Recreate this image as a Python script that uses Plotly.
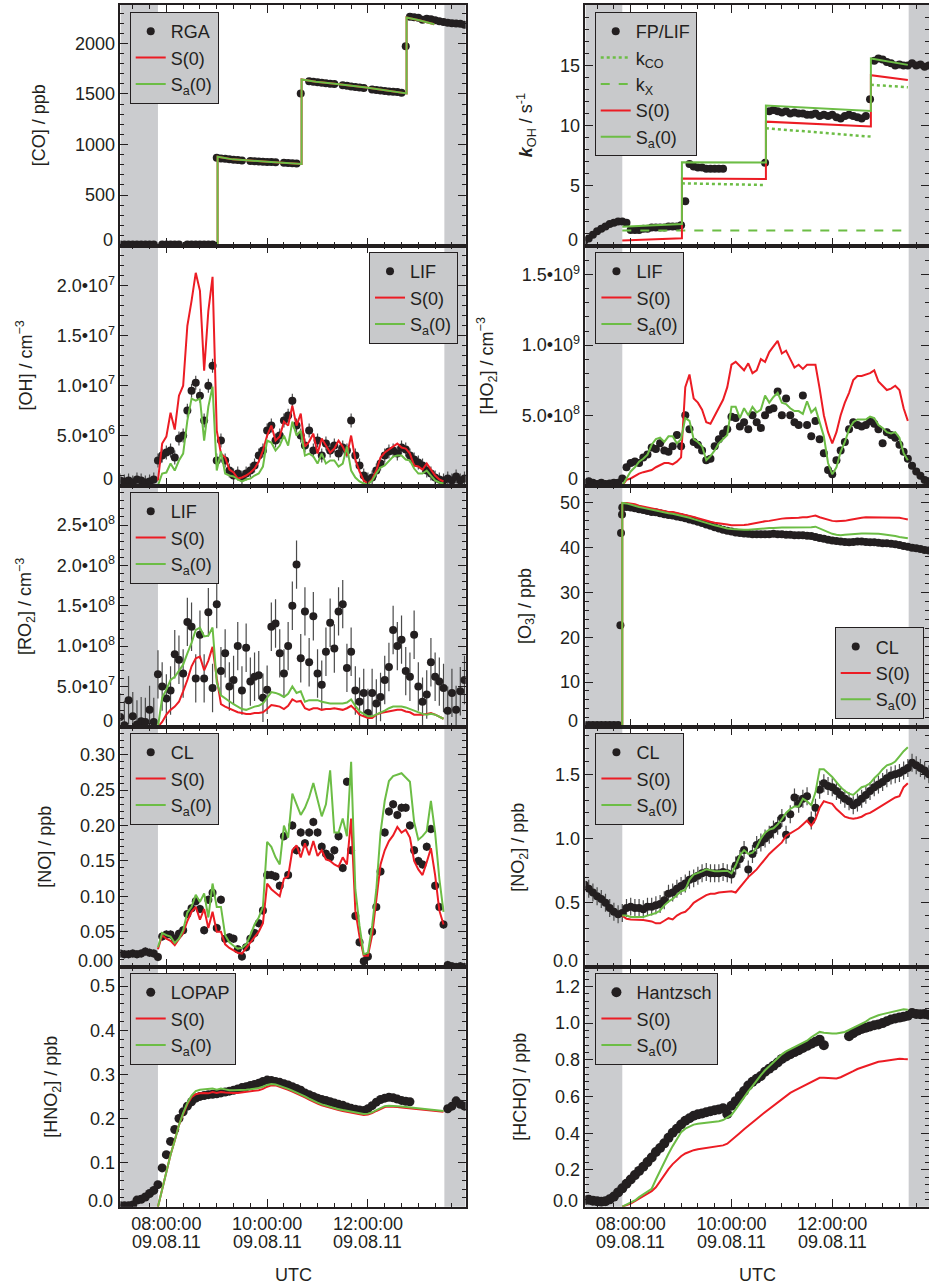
import pandas as pd
import plotly.graph_objects as go

W, H = 931, 1287          # 2 px wider than the window: right frame of right column falls just outside
DAY = "2011-08-09"
FONT = "Arial, Liberation Sans, Helvetica, sans-serif"
BLACK = "#231f20"
RED = "#ec1c24"
GREEN = "#6cbd45"
SHADE = "#cbcccf"
LEGBG = "#c8c9cb"
ERRC = "#4a4a4a"

# ---------------- time bases ----------------
DOT_TIME = pd.date_range(f"{DAY} 07:05", periods=83, freq="5min")   # measurements
MOD_TIME = pd.date_range(f"{DAY} 07:50", periods=69, freq="5min")   # model runs
MAJOR_TICKS = ["08:00", "10:00", "12:00"]
DATE_LABEL = "09.08.11"

# ---------------- [CO] / ppb ----------------
CO_RGA = [10, 10, 10, 10, 10, 10, 10, 10, 10, None,
          10, 10, 10, 10, 10, None, 10, 10, 10, 10,
          10, 10, 10, 870, 862, 858, 855, 850, 846, 842,
          None, 838, 835, 833, 830, 828, 826, 824, None, 820,
          818, 815, 812, 1505, None, 1625, 1620, 1615, 1610, 1605,
          1600, 1598, None, 1585, 1580, 1575, 1570, 1565, 1560, None,
          1545, 1540, 1535, 1530, 1525, 1522, 1520, 1512, 1973, 2265,
          2260, 2255, 2235, 2245, 2240, 2228, 2220, 2212, 2205, 2200,
          2198, 2195, 2185]
CO_MODEL_T = ["07:50", "09:01", "09:01", "09:19", "10:00", "10:41", "10:41", "10:58",
              "11:18", "11:58", "12:46", "12:46", "13:01", "13:19"]
CO_S0 = [0, 0, 879, 853, 830, 807, 1643, 1620, 1604, 1565, 1505, 2257, 2230, 2190]
CO_SA = [0, 0, 879, 853, 830, 807, 1643, 1620, 1604, 1565, 1505, 2257, 2230, 2190]

# ---------------- kOH / s-1 ----------------
KOH_FP = [0.4, 0.6, 0.9, 1.2, 1.4, 1.6, 1.8, 1.9, 2.0, 2.0,
          1.9, 1.3, 1.3, 1.3, 1.4, 1.4, 1.5, 1.5, 1.5, 1.5,
          1.6, 1.6, 1.6, 1.7, 3.7, 6.8, 6.6, 6.5, 6.5, 6.4,
          6.4, 6.4, 6.4, 6.4, None, None, None, None, None, None,
          None, None, None, 6.9, 11.2, 11.3, 11.2, 11.1, 11.2, 11.0,
          11.1, 11.0, 11.0, 10.9, 10.9, 11.0, 10.8, 10.9, 10.8, 10.9,
          10.7, 10.6, 10.8, 10.9, 10.8, 10.7, 10.6, 10.8, 12.2, 15.4,
          15.6, 15.5, 15.3, 15.2, 15.0, 15.1, 15.0, 15.0, 15.2, 15.0,
          15.1, 14.9, 15.0]
KOH_MODEL_T = ["07:50", "09:01", "09:01", "10:41", "10:41", "12:46", "12:46", "13:30"]
KOH_S0 = [0.42, 0.61, 5.60, 5.55, 10.33, 9.92, 14.2, 13.8]
KOH_SA = [1.58, 1.80, 6.94, 6.92, 11.67, 11.22, 15.6, 15.06]
KCO_T = ["09:01", "10:41", "10:41", "10:41", "12:46", "12:46", "12:46", "13:30"]
KCO = [5.19, 5.05, None, 9.78, 9.08, None, 13.4, 13.2]
KX_T = ["07:50", "13:30"]
KX = [1.25, 1.25]

# ---------------- [OH] / 1e6 cm-3 ----------------
OH_LIF = [0.5, 0.4, 0.5, 0.3, 0.6, 0.5, 0.3, 0.4, 0.6, 2.5,
          3.0, 3.3, 3.5, 2.8, 4.7, 5.0, 7.5, 9.5, 10.3, 9.0,
          6.5, 10.0, 12.0, 2.5, 4.5, 2.5, 1.5, 1.0, 1.2, 0.8,
          1.2, 1.5, 2.0, 3.0, 3.5, 5.5, 6.0, 4.5, 5.0, 6.5,
          7.0, 8.5, 6.0, 5.0, 4.0, 5.5, 3.5, 4.5, 3.0, 4.2,
          3.5, 4.0, 3.2, 3.8, 3.5, 6.5, 3.0, 2.0, 1.0, 0.6,
          0.8, 1.5, 2.2, 3.0, 3.4, 3.5, 3.2, 3.8, 3.6, 3.0,
          2.6, 2.3, 2.0, 1.5, 1.2, 0.8, 0.6, 0.5, 0.7, 0.5,
          0.9, 0.5, 0.7]
OH_S0 = [0.5, 4.2, 4.9, 7.3, 5.6, 9.0, 10.0, 16.0, 18.5, 21.3,
         19.5, 11.5, 17.5, 20.9, 5.5, 3.2, 2.8, 1.6, 1.3, 0.7,
         0.8, 1.0, 1.3, 1.7, 2.4, 3.5, 5.0, 6.0, 4.5, 4.9,
         6.4, 6.0, 8.0, 6.0, 7.2, 3.9, 4.4, 5.2, 3.2, 4.7,
         4.0, 3.3, 3.7, 4.5, 3.9, 3.0, 5.0, 2.6, 1.4, 0.5,
         0.2, 0.6, 1.5, 2.8, 3.3, 3.6, 3.9, 4.2, 3.8, 3.7,
         3.2, 2.0, 1.9, 1.6, 2.2, 1.6, 1.0, 0.6, 0.4]
OH_SA = [0.0, 1.2, 1.3, 2.2, 1.5, 2.5, 3.2, 6.5, 8.7, 8.5,
         8.7, 4.5, 7.9, 9.9, 1.5, 3.4, 1.2, 1.0, 0.9, 0.6,
         0.4, 0.6, 0.7, 1.0, 1.2, 1.9, 4.5, 4.3, 3.5, 4.0,
         5.0, 4.0, 6.4, 5.0, 5.5, 3.0, 3.2, 2.9, 2.2, 3.2,
         2.2, 2.5, 2.5, 1.9, 2.2, 3.9, 1.5, 0.8, 0.4, 0.2,
         0.1, 0.5, 1.2, 1.8, 2.0, 2.4, 2.9, 3.0, 3.0, 2.6,
         2.5, 1.7, 1.2, 1.2, 1.5, 1.0, 0.5, 0.3, 0.2]

# ---------------- [HO2] / 1e8 cm-3 ----------------
HO2_LIF = [0.2, 0.3, 0.2, 0.1, 0.2, 0.1, 0.15, 0.2, 0.2, 0.5,
           1.3, 1.6, 1.7, 1.6, 2.0, 2.2, 2.7, 2.6, 3.0, 2.5,
           2.4, 2.8, 3.6, 2.8, 5.0, 4.0, 3.1, 2.9, 2.5, 1.8,
           1.9, 2.8, 3.3, 3.7, 4.0, 4.9, 4.8, 4.2, 4.5, 4.0,
           5.0, 4.5, 4.1, 5.0, 5.4, 5.5, 6.7, 5.0, 6.2, 5.0,
           4.5, 4.3, 6.4, 4.3, 3.5, 4.6, 3.3, 2.3, 1.1, 0.8,
           1.8, 2.5, 3.1, 4.0, 4.5, 4.3, 4.2, 4.3, 4.6, 4.4,
           4.0, 3.0, 3.8, 3.6, 3.4, 2.9, 2.4, 1.9, 1.4, 1.0,
           0.7, 0.4, 0.3]
HO2_S0 = [0.0, 0.4, 0.5, 0.7, 0.85, 0.95, 1.05, 1.1, 1.3, 1.45,
          1.6, 1.6, 1.5, 1.7, 2.0, 7.0, 7.9, 6.2, 5.9, 5.4,
          4.5, 4.4, 5.0, 5.5, 6.1, 7.0, 8.6, 8.8, 8.5, 8.2,
          8.7, 8.0, 8.2, 9.0, 8.8, 9.5, 9.9, 10.3, 9.4, 9.6,
          9.0, 8.4, 8.6, 8.3, 8.6, 8.6, 8.6, 6.9, 5.0, 3.8,
          3.0, 3.8, 5.0, 5.9, 6.6, 7.5, 7.8, 7.8, 7.9, 8.0,
          8.2, 7.4, 7.1, 6.8, 6.9, 7.1, 6.8, 5.5, 4.6]
HO2_SA = [0.0, 0.5, 1.0, 1.3, 1.7, 1.9, 2.2, 2.9, 3.3, 3.4,
          3.1, 3.5, 3.5, 3.0, 3.3, 4.8, 4.6, 3.3, 3.1, 2.8,
          1.8, 2.1, 2.5, 3.0, 3.3, 3.6, 5.6, 5.6, 4.8, 5.5,
          5.0, 5.6, 5.2, 5.4, 6.4, 5.9, 6.3, 6.6, 5.9, 5.8,
          5.5, 5.3, 5.3, 5.1, 6.0, 5.2, 5.5, 4.5, 3.5, 1.6,
          0.8, 1.3, 2.4, 3.1, 4.0, 4.5, 4.7, 4.7, 4.7, 4.9,
          4.8, 4.3, 4.1, 3.8, 3.7, 3.8, 3.4, 2.3, 1.8]

# ---------------- [RO2] / 1e7 cm-3 ----------------
RO2_LIF = [1.2, 0.2, 3.3, 1.3, 0.3, 0.7, 0.6, 2.1, 0.6, 6.5,
           5.0, 3.5, 4.5, 9.0, 8.3, 6.6, 13.0, 12.4, 6.0, 11.4,
           6.0, 14.2, 4.8, 15.2, 6.9, 9.1, 5.0, 5.8, 10.0, 4.5,
           9.8, 5.6, 6.2, 6.4, 3.6, 4.6, 12.4, 12.8, 9.1, 6.6,
           10.0, 15.0, 20.1, 8.5, 14.3, 8.0, 13.7, 6.6, 5.2, 9.3,
           12.9, 9.7, 14.3, 15.2, 7.3, 9.3, 4.5, 3.1, 4.2, 1.7,
           4.2, 2.9, 3.7, 5.8, 7.4, 12.0, 10.0, 10.8, 6.9, 6.2,
           11.4, 5.0, 3.1, 4.0, 8.0, 6.2, 5.6, 4.8, 2.0, 4.2,
           2.1, 4.4, 5.8]
RO2_S0 = [0.0, 0.6, 1.5, 2.1, 2.5, 3.1, 4.4, 5.8, 7.5, 8.5,
          8.7, 7.0, 8.2, 9.9, 6.0, 2.8, 2.5, 2.3, 2.1, 1.8,
          1.7, 1.6, 1.6, 1.7, 1.7, 1.8, 2.2, 2.7, 2.6, 2.5,
          2.2, 2.6, 3.4, 3.1, 3.2, 2.3, 2.1, 2.3, 2.3, 2.1,
          2.2, 2.2, 2.3, 2.2, 2.1, 2.3, 2.6, 2.1, 1.5, 1.3,
          1.1, 1.1, 1.5, 1.7, 1.8, 1.9, 2.0, 2.1, 2.1, 1.9,
          1.8, 1.5, 1.5, 1.5, 1.6, 1.7, 1.5, 1.3, 1.0]
RO2_SA = [0.0, 3.6, 4.6, 5.8, 6.2, 6.9, 7.7, 9.1, 10.4, 12.0,
          12.3, 11.2, 11.3, 12.3, 5.5, 3.9, 3.5, 3.1, 2.8, 2.5,
          2.2, 2.1, 2.3, 2.5, 2.6, 2.9, 3.6, 4.3, 4.2, 4.0,
          3.7, 4.1, 5.0, 4.2, 4.4, 3.1, 3.3, 3.3, 3.3, 3.1,
          3.0, 2.9, 2.9, 2.9, 2.9, 3.0, 3.4, 2.6, 1.9, 1.6,
          1.3, 1.3, 1.5, 1.8, 2.0, 2.3, 2.5, 2.5, 2.5, 2.4,
          2.2, 2.0, 1.8, 1.6, 1.5, 1.6, 1.5, 1.3, 1.0]

# ---------------- [O3] / ppb ----------------
O3_CL = [0.4, 0.4, 0.4, 0.4, 0.4, 0.4, 0.4, 0.4, 0.4, 49.0,
         49.1, 49.0, 48.8, 48.6, 48.4, 48.2, 48.0, 47.9, 47.7, 47.5,
         47.3, 47.2, 47.0, 46.8, 46.6, 46.3, 46.1, 45.8, 45.5, 45.2,
         44.9, 44.6, 44.3, 44.0, 43.8, 43.6, 43.4, 43.3, 43.2, 43.1,
         43.0, 43.0, 43.0, 43.0, 43.0, 43.1, 43.0, 43.0, 42.9, 42.9,
         42.8, 42.8, 42.8, 42.7, 42.6, 42.4, 42.2, 42.0, 41.8, 41.6,
         41.5, 41.4, 41.3, 41.2, 41.3, 41.4, 41.4, 41.3, 41.2, 41.2,
         41.1, 41.0, 41.0, 40.9, 40.8, 40.6, 40.4, 40.2, 40.0, 39.9,
         39.7, 39.5, 39.4]
O3_CL_EXTRA_T = ["07:47:45", "07:48:30", "07:49:40"]
O3_CL_EXTRA = [22.7, 43.3, 47.4]
O3_MODEL_START = 0.0
O3_S0 = [50.0, 50.0, 49.9, 49.7, 49.4, 49.2, 49.0, 48.8, 48.5, 48.3,
         48.1, 48.0, 48.0, 47.8, 47.6, 47.4, 47.2, 46.9, 46.6, 46.3,
         46.0, 45.8, 45.6, 45.5, 45.4, 45.2, 45.0, 45.0, 45.0, 45.1,
         45.2, 45.4, 45.6, 45.8, 45.9, 46.0, 46.2, 46.3, 46.5, 46.6,
         46.6, 46.7, 46.7, 46.8, 46.8, 47.0, 47.2, 46.8, 46.5, 46.3,
         46.0, 45.9, 45.9, 46.0, 46.2, 46.4, 46.5, 46.7, 46.8, 46.8,
         46.8, 46.8, 46.8, 46.8, 46.8, 46.8, 46.7, 46.5, 46.3]
O3_SA = [50.0, 49.9, 49.6, 49.4, 49.1, 48.9, 48.7, 48.5, 48.2, 48.0,
         47.8, 47.7, 47.6, 47.4, 47.1, 46.9, 46.7, 46.4, 46.1, 45.8,
         45.5, 45.2, 45.0, 44.8, 44.5, 44.3, 44.2, 44.1, 44.0, 44.0,
         44.0, 44.1, 44.2, 44.2, 44.3, 44.4, 44.4, 44.5, 44.5, 44.5,
         44.5, 44.5, 44.5, 44.5, 44.6, 44.6, 44.7, 44.3, 43.9, 43.5,
         43.1, 42.9, 42.8, 42.9, 43.0, 43.0, 43.1, 43.2, 43.2, 43.2,
         43.1, 43.1, 43.0, 42.9, 42.8, 42.6, 42.4, 42.2, 42.1]

# ---------------- [NO] / ppb ----------------
NO_CL = [0.019, 0.018, 0.018, 0.019, 0.018, 0.019, 0.022, 0.020, 0.019, 0.014,
         0.043, 0.046, 0.046, 0.040, 0.047, 0.052, 0.075, 0.083, 0.093, 0.082,
         0.052, 0.095, 0.105, 0.055, 0.095, 0.040, 0.042, 0.040, 0.025, 0.015,
         0.028, 0.040, 0.048, 0.062, 0.080, 0.130, 0.130, 0.128, 0.115, 0.185,
         0.130, 0.200, 0.165, 0.190, 0.175, 0.190, 0.205, 0.190, 0.170, 0.160,
         0.155, 0.165, 0.185, 0.140, 0.262, 0.165, 0.072, 0.035, 0.008, 0.015,
         0.050, 0.085, 0.135, 0.190, 0.220, 0.230, 0.215, 0.225, 0.225, 0.200,
         0.165, 0.150, 0.145, 0.170, 0.195, 0.115, 0.085, 0.060, 0.003, 0.001,
         0.000, 0.001, 0.000]
NO_S0 = [0.025, 0.045, 0.040, 0.037, 0.031, 0.040, 0.048, 0.065, 0.078, 0.085,
         0.067, 0.082, 0.055, 0.078, 0.050, 0.050, 0.032, 0.027, 0.023, 0.020,
         0.019, 0.027, 0.035, 0.042, 0.050, 0.062, 0.118, 0.110, 0.105, 0.100,
         0.125, 0.128, 0.165, 0.172, 0.155, 0.175, 0.158, 0.178, 0.157, 0.165,
         0.152, 0.150, 0.145, 0.142, 0.155, 0.145, 0.210, 0.080, 0.043, 0.016,
         0.016, 0.045, 0.095, 0.145, 0.165, 0.178, 0.186, 0.198, 0.190, 0.194,
         0.183, 0.150, 0.138, 0.130, 0.148, 0.168, 0.130, 0.080, 0.060]
NO_SA = [0.028, 0.048, 0.045, 0.043, 0.034, 0.040, 0.052, 0.077, 0.085, 0.102,
         0.092, 0.104, 0.070, 0.118, 0.085, 0.085, 0.045, 0.035, 0.030, 0.026,
         0.027, 0.032, 0.045, 0.060, 0.070, 0.085, 0.177, 0.170, 0.155, 0.145,
         0.200, 0.183, 0.245, 0.230, 0.215, 0.225, 0.240, 0.260, 0.235, 0.213,
         0.230, 0.278, 0.190, 0.190, 0.210, 0.185, 0.290, 0.110, 0.058, 0.018,
         0.020, 0.058, 0.110, 0.190, 0.235, 0.263, 0.270, 0.272, 0.274, 0.268,
         0.262, 0.205, 0.180, 0.185, 0.192, 0.235, 0.190, 0.125, 0.078]

# ---------------- [NO2] / ppb ----------------
NO2_CL = [0.64, 0.61, 0.58, 0.55, 0.53, 0.50, 0.46, 0.43, 0.41, 0.42,
          0.46, 0.47, 0.46, 0.46, 0.45, 0.47, 0.47, 0.48, 0.49, 0.52,
          0.57, 0.58, 0.61, 0.63, 0.65, 0.68, 0.69, 0.71, 0.73, 0.74,
          0.73, 0.73, 0.73, 0.74, 0.73, 0.72, 0.79, 0.84, 0.91, 0.76,
          0.88, 0.95, 0.97, 1.00, 1.03, 1.07, 1.10, 1.16, 1.03, 1.19,
          1.32, 1.27, 1.31, 1.33, 1.14, 1.24, 1.38, 1.43, 1.41, 1.40,
          1.37, 1.34, 1.31, 1.29, 1.26, 1.28, 1.31, 1.34, 1.37, 1.40,
          1.42, 1.44, 1.47, 1.49, 1.50, 1.51, 1.53, 1.55, 1.59, 1.57,
          1.55, 1.53, 1.50]
NO2_S0 = [0.40, 0.375, 0.37, 0.37, 0.37, 0.365, 0.36, 0.355, 0.34, 0.34,
          0.36, 0.38, 0.37, 0.40, 0.42, 0.43, 0.46, 0.50, 0.52, 0.54,
          0.56, 0.57, 0.57, 0.58, 0.585, 0.59, 0.59, 0.58, 0.62, 0.66,
          0.70, 0.73, 0.76, 0.80, 0.84, 0.88, 0.91, 0.94, 0.97, 1.02,
          1.04, 1.06, 1.08, 1.11, 1.14, 1.10, 1.15, 1.24, 1.29, 1.28,
          1.27, 1.23, 1.20, 1.17, 1.16, 1.155, 1.16, 1.17, 1.19, 1.20,
          1.22, 1.24, 1.26, 1.28, 1.30, 1.32, 1.33, 1.40, 1.43]
NO2_SA = [0.40, 0.40, 0.39, 0.39, 0.39, 0.39, 0.40, 0.41, 0.42, 0.44,
          0.48, 0.51, 0.53, 0.56, 0.59, 0.60, 0.68, 0.72, 0.73, 0.745,
          0.76, 0.75, 0.745, 0.745, 0.745, 0.75, 0.73, 0.79, 0.87, 0.91,
          0.88, 0.89, 0.93, 1.00, 1.045, 1.07, 1.08, 1.11, 1.15, 1.20,
          1.23, 1.25, 1.25, 1.31, 1.29, 1.26, 1.36, 1.54, 1.54, 1.51,
          1.48, 1.44, 1.40, 1.37, 1.35, 1.34, 1.37, 1.40, 1.41, 1.43,
          1.47, 1.50, 1.54, 1.57, 1.58, 1.60, 1.64, 1.68, 1.71]

# ---------------- [HNO2] / ppb ----------------
HONO_LOPAP = [0.002, 0.002, 0.002, 0.004, 0.015, 0.017, 0.022, 0.030, 0.037, 0.050,
              0.088, 0.118, 0.148, 0.175, 0.200, 0.215, 0.228, 0.238, 0.246, 0.250,
              0.252, 0.254, 0.255, 0.256, 0.258, 0.260, 0.262, 0.264, 0.267, 0.270,
              0.272, 0.275, 0.277, 0.280, 0.284, 0.287, 0.286, 0.284, 0.282, 0.279,
              0.276, 0.272, 0.268, 0.264, 0.258, 0.254, 0.250, 0.246, 0.243, 0.241,
              0.238, 0.235, 0.232, 0.230, 0.226, 0.223, 0.221, 0.219, 0.218, 0.222,
              0.229, 0.237, 0.243, 0.246, 0.248, 0.247, 0.244, 0.241, 0.239, 0.238,
              None, None, None, None, None, None, None, None, 0.222, 0.228,
              0.240, 0.232, 0.228]
HONO_S0 = [0.0, 0.040, 0.080, 0.118, 0.150, 0.185, 0.210, 0.232, 0.248, 0.255,
           0.257, 0.258, 0.257, 0.260, 0.258, 0.260, 0.259, 0.258, 0.258, 0.258,
           0.259, 0.260, 0.261, 0.262, 0.264, 0.267, 0.272, 0.275, 0.275, 0.272,
           0.269, 0.265, 0.261, 0.257, 0.253, 0.248, 0.243, 0.238, 0.234, 0.230,
           0.227, 0.224, 0.221, 0.219, 0.217, 0.215, 0.213, 0.211, 0.209, 0.208,
           0.209, 0.212, 0.217, 0.222, 0.226, 0.227, 0.227, 0.226, 0.225, 0.224,
           0.223, 0.222, 0.221, 0.220, 0.219, 0.218, 0.217, 0.216, 0.215]
HONO_SA = [0.0, 0.040, 0.080, 0.118, 0.150, 0.185, 0.212, 0.235, 0.252, 0.262,
           0.265, 0.266, 0.267, 0.268, 0.265, 0.268, 0.266, 0.264, 0.264, 0.264,
           0.265, 0.265, 0.266, 0.267, 0.269, 0.272, 0.276, 0.278, 0.277, 0.274,
           0.271, 0.267, 0.263, 0.259, 0.255, 0.250, 0.245, 0.240, 0.236, 0.232,
           0.229, 0.226, 0.223, 0.221, 0.219, 0.217, 0.215, 0.213, 0.211, 0.210,
           0.211, 0.214, 0.219, 0.224, 0.228, 0.229, 0.229, 0.228, 0.227, 0.226,
           0.225, 0.224, 0.223, 0.222, 0.221, 0.220, 0.219, 0.218, 0.217]

# ---------------- [HCHO] / ppb ----------------
HCHO_H = [0.035, 0.038, 0.032, 0.030, 0.027, 0.030, 0.040, 0.055, 0.078, 0.100,
          0.125, 0.148, 0.172, 0.195, 0.218, 0.243, 0.268, 0.298, 0.320, 0.345,
          0.375, 0.403, 0.425, 0.448, 0.468, 0.482, 0.495, 0.503, 0.508, 0.514,
          0.520, 0.525, 0.530, 0.536, 0.505, 0.550, 0.575, 0.603, 0.630, 0.660,
          0.680, 0.697, 0.712, 0.735, 0.752, 0.768, 0.785, 0.805, 0.818, 0.830,
          0.842, 0.852, 0.864, 0.876, 0.888, 0.898, 0.910, 0.880, None, None,
          None, None, None, 0.928, 0.945, 0.958, 0.968, 0.975, 0.982, 0.988,
          0.993, 1.000, 1.010, 1.020, 1.025, 1.030, 1.035, 1.040, 1.055, 1.050,
          1.048, 1.050, 1.045]
HCHO_S0 = [0.000, 0.008, 0.017, 0.030, 0.043, 0.058, 0.070, 0.085, 0.106, 0.140,
           0.170, 0.205, 0.232, 0.255, 0.275, 0.290, 0.300, 0.308, 0.313, 0.316,
           0.318, 0.321, 0.324, 0.328, 0.334, 0.343, 0.361, 0.380, 0.402, 0.422,
           0.440, 0.455, 0.478, 0.497, 0.515, 0.533, 0.550, 0.570, 0.588, 0.605,
           0.620, 0.632, 0.644, 0.655, 0.666, 0.678, 0.690, 0.702, 0.702, 0.700,
           0.698, 0.698, 0.705, 0.715, 0.726, 0.738, 0.750, 0.758, 0.765, 0.776,
           0.785, 0.789, 0.792, 0.795, 0.799, 0.803, 0.806, 0.804, 0.803]
HCHO_SA = [0.000, 0.012, 0.022, 0.034, 0.052, 0.068, 0.082, 0.098, 0.148, 0.196,
           0.243, 0.288, 0.330, 0.368, 0.405, 0.425, 0.438, 0.447, 0.452, 0.454,
           0.457, 0.460, 0.462, 0.466, 0.472, 0.485, 0.500, 0.530, 0.565, 0.598,
           0.628, 0.657, 0.688, 0.717, 0.743, 0.766, 0.789, 0.812, 0.830, 0.846,
           0.858, 0.868, 0.880, 0.892, 0.904, 0.923, 0.940, 0.952, 0.947, 0.944,
           0.943, 0.943, 0.946, 0.952, 0.963, 0.975, 0.986, 0.997, 1.008, 1.025,
           1.035, 1.043, 1.049, 1.055, 1.061, 1.066, 1.071, 1.075, 1.073]

for nm, arr, n in [("CO_RGA", CO_RGA, 83), ("KOH_FP", KOH_FP, 83), ("OH_LIF", OH_LIF, 83),
                   ("HO2_LIF", HO2_LIF, 83), ("RO2_LIF", RO2_LIF, 83), ("O3_CL", O3_CL, 83),
                   ("NO_CL", NO_CL, 83), ("NO2_CL", NO2_CL, 83), ("HONO_LOPAP", HONO_LOPAP, 83),
                   ("HCHO_H", HCHO_H, 83),
                   ("OH_S0", OH_S0, 69), ("OH_SA", OH_SA, 69), ("HO2_S0", HO2_S0, 69), ("HO2_SA", HO2_SA, 69),
                   ("RO2_S0", RO2_S0, 69), ("RO2_SA", RO2_SA, 69), ("O3_S0", O3_S0, 69), ("O3_SA", O3_SA, 69),
                   ("NO_S0", NO_S0, 69), ("NO_SA", NO_SA, 69), ("NO2_S0", NO2_S0, 69), ("NO2_SA", NO2_SA, 69),
                   ("HONO_S0", HONO_S0, 69), ("HONO_SA", HONO_SA, 69), ("HCHO_S0", HCHO_S0, 69),
                   ("HCHO_SA", HCHO_SA, 69)]:
    if len(arr) != n:
        raise ValueError(f"{nm} has {len(arr)} values, expected {n}")


def T(lst):
    return [f"{DAY} {s}" for s in lst]


def sc(arr, k):
    return [None if v is None else v * k for v in arr]


# ---------------- layout geometry (pixels) ----------------
COLS = {"L": (120.7, 466.7), "R": (586.7, 931.0)}
ROWS = [(5.0, 245.6), (245.6, 485.5), (485.5, 726.8), (726.8, 967.0), (967.0, 1206.7)]
XRANGE = {"L": [f"{DAY} 07:05:20", f"{DAY} 13:56:24"], "R": [f"{DAY} 07:06:07", f"{DAY} 13:55:12"]}
SHADE_END = f"{DAY} 07:50"
SHADE_START = f"{DAY} 13:31"

PANELS = [
    dict(col="L", row=0, yr=[0, 2380], tv=[500, 1000, 1500, 2000], tt=["500", "1000", "1500", "2000"],
         zero="0", minor=100, title="[CO] / ppb", tx=39, ms=8),
    dict(col="R", row=0, yr=[0, 20.05], tv=[5, 10, 15, 20], tt=["5", "10", "15", "20"],
         zero="0", minor=1, title="<b><i>k</i></b><sub>OH</sub> / s<sup>-1</sup>", tx=527, ms=8),
    dict(col="L", row=1, yr=[0, 2.403e7], tv=[5e6, 1e7, 1.5e7, 2e7],
         tt=["5.0•10<sup>6</sup>", "1.0•10<sup>7</sup>", "1.5•10<sup>7</sup>", "2.0•10<sup>7</sup>"],
         zero="0", minor=1e6, title="[OH] / cm<sup>−3</sup>", tx=25, ms=8),
    dict(col="R", row=1, yr=[0, 1.708e9], tv=[5e8, 1e9, 1.5e9],
         tt=["5.0•10<sup>8</sup>", "1.0•10<sup>9</sup>", "1.5•10<sup>9</sup>"],
         zero="0", minor=1e8, title="[HO<sub>2</sub>] / cm<sup>−3</sup>", tx=488, ms=8),
    dict(col="L", row=2, yr=[0, 2.99e8], tv=[5e7, 1e8, 1.5e8, 2e8, 2.5e8],
         tt=["5.0•10<sup>7</sup>", "1.0•10<sup>8</sup>", "1.5•10<sup>8</sup>", "2.0•10<sup>8</sup>",
             "2.5•10<sup>8</sup>"],
         zero="0", minor=1e7, title="[RO<sub>2</sub>] / cm<sup>−3</sup>", tx=25, ms=8),
    dict(col="R", row=2, yr=[0, 53.9], tv=[10, 20, 30, 40, 50], tt=["10", "20", "30", "40", "50"],
         zero="0", minor=2, title="[O<sub>3</sub>] / ppb", tx=527, ms=8),
    dict(col="L", row=3, yr=[0, 0.3396], tv=[0.05, 0.10, 0.15, 0.20, 0.25, 0.30],
         tt=["0.05", "0.10", "0.15", "0.20", "0.25", "0.30"],
         zero="0.00", minor=0.01, title="[NO] / ppb", tx=45, ms=8),
    dict(col="R", row=3, yr=[0, 1.87], tv=[0.5, 1.0, 1.5], tt=["0.5", "1.0", "1.5"],
         zero="0.0", minor=0.1, title="[NO<sub>2</sub>] / ppb", tx=521, ms=8),
    dict(col="L", row=4, yr=[0, 0.5434], tv=[0.1, 0.2, 0.3, 0.4, 0.5], tt=["0.1", "0.2", "0.3", "0.4", "0.5"],
         zero="0.0", minor=0.02, title="[HNO<sub>2</sub>] / ppb", tx=53, ms=9),
    dict(col="R", row=4, yr=[0, 1.3056], tv=[0.2, 0.4, 0.6, 0.8, 1.0, 1.2],
         tt=["0.2", "0.4", "0.6", "0.8", "1.0", "1.2"],
         zero="0.0", minor=0.04, title="[HCHO] / ppb", tx=521, ms=10),
]

LEGENDS = [  # (x px, y px, xanchor, yanchor)
    (130, 12, "left", "top"),
    (596, 12, "left", "top"),
    (459, 252, "right", "top"),
    (596.7, 252, "left", "top"),
    (130, 492, "left", "top"),
    (925.7, 719.3, "right", "bottom"),
    (130, 733, "left", "top"),
    (596.7, 733, "left", "top"),
    (130, 973, "left", "top"),
    (596.7, 973, "left", "top"),
]

fig = go.Figure()


def axid(n, k):
    return k if n == 1 else f"{k}{n}"


def lg(n):
    return "legend" if n == 1 else f"legend{n}"


def dots(n, x, y, name, err=None):
    kw = dict(x=x, y=y, mode="markers", name=name, legend=lg(n),
              xaxis=axid(n, "x"), yaxis=axid(n, "y"),
              marker=dict(size=PANELS[n - 1]["ms"], color=BLACK, line=dict(width=0)))
    if err is not None:
        kw["error_y"] = dict(type="constant", value=err, color=ERRC, thickness=1.2, width=0)
    fig.add_trace(go.Scatter(**kw))


def line(n, x, y, name, color, dash=None, width=2):
    fig.add_trace(go.Scatter(x=x, y=y, mode="lines", name=name, legend=lg(n),
                             xaxis=axid(n, "x"), yaxis=axid(n, "y"),
                             line=dict(color=color, width=width, dash=dash)))


S0 = "S(0)"
SA = "S<sub>a</sub>(0)"
dt = list(DOT_TIME)
mt = list(MOD_TIME)

# 1 CO
dots(1, dt, CO_RGA, "RGA")
line(1, T(CO_MODEL_T), CO_S0, S0, RED)
line(1, T(CO_MODEL_T), CO_SA, SA, GREEN)
# 2 kOH
dots(2, dt, KOH_FP, "FP/LIF")
line(2, T(KCO_T), KCO, "k<sub>CO</sub>", GREEN, dash="dot", width=2.5)
line(2, T(KX_T), KX, "k<sub>X</sub>", GREEN, dash="dash")
line(2, T(KOH_MODEL_T), KOH_S0, S0, RED)
line(2, T(KOH_MODEL_T), KOH_SA, SA, GREEN)
# 3 OH
dots(3, dt, sc(OH_LIF, 1e6), "LIF", err=0.7e6)
line(3, mt, sc(OH_S0, 1e6), S0, RED)
line(3, mt, sc(OH_SA, 1e6), SA, GREEN)
# 4 HO2
dots(4, dt, sc(HO2_LIF, 1e8), "LIF", err=0.25e8)
line(4, mt, sc(HO2_S0, 1e8), S0, RED)
line(4, mt, sc(HO2_SA, 1e8), SA, GREEN)
# 5 RO2
dots(5, dt, sc(RO2_LIF, 1e7), "LIF", err=3e7)
line(5, mt, sc(RO2_S0, 1e7), S0, RED)
line(5, mt, sc(RO2_SA, 1e7), SA, GREEN)
# 6 O3
dots(6, T(O3_CL_EXTRA_T) + dt, O3_CL_EXTRA + O3_CL, "CL")
line(6, [mt[0]] + mt, [O3_MODEL_START] + O3_S0, S0, RED)
line(6, [mt[0]] + mt, [O3_MODEL_START] + O3_SA, SA, GREEN)
# 7 NO
dots(7, dt, NO_CL, "CL", err=0.006)
line(7, mt, NO_S0, S0, RED)
line(7, mt, NO_SA, SA, GREEN)
# 8 NO2
dots(8, dt, NO2_CL, "CL", err=0.07)
line(8, mt, NO2_S0, S0, RED)
line(8, mt, NO2_SA, SA, GREEN)
# 9 HNO2
dots(9, dt, HONO_LOPAP, "LOPAP")
line(9, mt, HONO_S0, S0, RED)
line(9, mt, HONO_SA, SA, GREEN)
# 10 HCHO
dots(10, dt, HCHO_H, "Hantzsch")
line(10, mt, HCHO_S0, S0, RED)
line(10, mt, HCHO_SA, SA, GREEN)

layout = dict(width=W, height=H, margin=dict(l=0, r=0, t=0, b=0),
              paper_bgcolor="white", plot_bgcolor="white", showlegend=True,
              font=dict(family=FONT, size=18, color=BLACK))
shapes = []
annotations = []
AX = dict(showline=True, linecolor=BLACK, linewidth=1.5, mirror="ticks", ticks="inside",
          ticklen=8, tickwidth=1, tickcolor=BLACK, showgrid=False, zeroline=False,
          tickfont=dict(family=FONT, size=18, color=BLACK))

for i, p in enumerate(PANELS):
    n = i + 1
    x0, x1 = COLS[p["col"]]
    top, bot = ROWS[p["row"]]
    xd = [x0 / W, min(x1 / W, 1.0)]
    yd = [1 - bot / H, 1 - top / H]
    xk = "xaxis" if n == 1 else f"xaxis{n}"
    yk = "yaxis" if n == 1 else f"yaxis{n}"
    layout[xk] = dict(AX, type="date", domain=xd, anchor=axid(n, "y"), range=XRANGE[p["col"]],
                      tickmode="linear", tick0=f"{DAY} 08:00", dtick=7200000,
                      tickformat="%H:%M:%S", showticklabels=(p["row"] == 4),
                      minor=dict(ticks="inside", ticklen=4, tickwidth=1, tickcolor=BLACK,
                                 tick0=f"{DAY} 08:00", dtick=1200000))
    layout[yk] = dict(AX, domain=yd, anchor=axid(n, "x"), range=p["yr"],
                      tickmode="array", tickvals=p["tv"], ticktext=p["tt"],
                      minor=dict(ticks="inside", ticklen=4, tickwidth=1, tickcolor=BLACK,
                                 tickmode="linear", tick0=0, dtick=p["minor"]))
    for xa, xb in [(XRANGE[p["col"]][0], SHADE_END), (SHADE_START, XRANGE[p["col"]][1])]:
        shapes.append(dict(type="rect", xref=axid(n, "x"), yref=f"{axid(n, 'y')} domain",
                           x0=xa, x1=xb, y0=0, y1=1, fillcolor=SHADE, line=dict(width=0),
                           layer="below"))
    annotations.append(dict(text=p["zero"], xref="paper", x=(x0 - 5) / W, xanchor="right",
                            yref=axid(n, "y"), y=0, yanchor="middle", yshift=6, showarrow=False,
                            font=dict(family=FONT, size=18, color=BLACK)))
    annotations.append(dict(text=p["title"], xref="paper", x=p["tx"] / W, xanchor="center",
                            yref="paper", y=1 - (top + bot) / 2 / H, yanchor="middle",
                            textangle=-90, showarrow=False,
                            font=dict(family=FONT, size=18, color=BLACK)))
    if p["row"] == 4:
        for hm in MAJOR_TICKS:
            annotations.append(dict(text=DATE_LABEL, xref=axid(n, "x"), x=f"{DAY} {hm}", xanchor="center",
                                    yref="paper", y=1 - 1242 / H, yanchor="middle", showarrow=False,
                                    font=dict(family=FONT, size=18, color=BLACK)))
    lx, ly, xa_, ya_ = LEGENDS[i]
    layout[lg(n)] = dict(x=lx / W, y=1 - ly / H, xanchor=xa_, yanchor=ya_, xref="paper", yref="paper",
                         bgcolor=LEGBG, bordercolor=BLACK, borderwidth=1, itemwidth=30,
                         tracegroupgap=0, traceorder="normal",
                         font=dict(family=FONT, size=18, color=BLACK))

for cx in [(COLS["L"][0] + COLS["L"][1]) / 2, (COLS["R"][0] + COLS["R"][1]) / 2]:
    annotations.append(dict(text="UTC", xref="paper", x=cx / W, xanchor="center",
                            yref="paper", y=1 - 1275 / H, yanchor="middle", showarrow=False,
                            font=dict(family=FONT, size=18, color=BLACK)))

layout["shapes"] = shapes
layout["annotations"] = annotations
fig.update_layout(**layout)
fig.write_html("out.html", config={"displayModeBar": False},
               post_script="document.body.style.margin='0';document.body.style.padding='0';"
                           "document.body.style.overflow='hidden';")
